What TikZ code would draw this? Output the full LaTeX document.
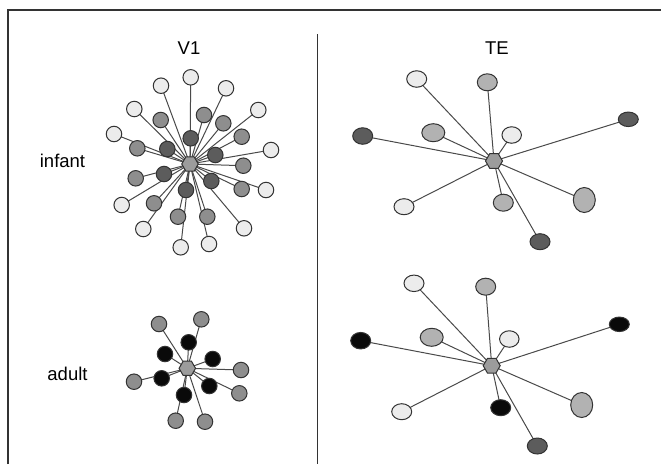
\documentclass[tikz,border=0pt]{standalone}
\usepackage{fontspec}
\setmainfont{Liberation Sans}
\usetikzlibrary{shapes.geometric}
\definecolor{lightfill}{HTML}{ECECEC}
\definecolor{midfill}{HTML}{8E8E8E}
\definecolor{darkfill}{HTML}{5C5C5C}
\definecolor{blackfill}{HTML}{0A0A0A}
\definecolor{tmidfill}{HTML}{B2B2B2}
\definecolor{hubfill}{HTML}{9C9C9C}
\definecolor{edgegray}{HTML}{4A4A4A}
\definecolor{rimgray}{HTML}{333333}
\tikzset{
  cell/.style={circle, draw=rimgray, line width=1pt, minimum size=15.5pt, inner sep=0pt},
  oval/.style={ellipse, draw=rimgray, line width=1pt, minimum width=20pt, minimum height=16.5pt, inner sep=0pt},
  hub/.style={regular polygon, regular polygon sides=6, draw=rimgray, line width=1pt, fill=hubfill, minimum size=17pt, inner sep=0pt},
  light/.style={fill=lightfill},
  mid/.style={fill=midfill},
  dark/.style={fill=darkfill},
  blk/.style={fill=blackfill},
  tmid/.style={fill=tmidfill},
  link/.style={draw=edgegray, line width=1pt},
  frame/.style={draw=rimgray, line width=1.4pt},
  lbl/.style={font=\fontsize{18.5}{22}\selectfont, anchor=base, inner sep=0pt}
}
\begin{document}
\begin{tikzpicture}[x=1pt,y=-1pt]
\useasboundingbox (0,0) rectangle (661,464);
\fill[white] (0,0) rectangle (661,464);

% frame and divider
\draw[frame] (8,464) -- (8,10) -- (661,10);
\draw[rimgray, line width=1.1pt] (317.5,34) -- (317.5,464);

% headings and row labels
\node[lbl] (hv) at (189,54) {V1};
\node[lbl] (ht) at (497,54) {TE};
\node[lbl] (rinf) at (62.5,167.7) {infant};
\node[lbl] (radu) at (67.5,380.7) {adult};

% ---------- V1, infant ----------
\coordinate (vi) at (190,164);
\foreach \n/\x/\y/\s in {
  a1/190.7/77.3/light, a2/161/85.7/light, a3/226/88.3/light, a4/134.3/109/light,
  a5/258.3/110/light, a6/114/134/light, a7/271/150/light, a8/266/190/light,
  a9/121.7/205/light, a10/244/228.3/light, a11/143.3/229/light, a12/180.7/247.3/light,
  a13/209/244/light,
  b1/160.7/120/mid, b2/204/115/mid, b3/223.3/123.3/mid, b4/241.7/136.7/mid,
  b5/137.3/148.3/mid, b6/243.3/165.7/mid, b7/135.7/178.3/mid, b8/241.7/189/mid,
  b9/154/203.3/mid, b10/178/216.7/mid, b11/207.3/216.7/mid,
  c1/190.7/138.3/dark, c2/167.3/149/dark, c3/215.3/155/dark, c4/164/174/dark,
  c5/211.3/181/dark, c6/186/190/dark}
  {\coordinate (vi\n) at (\x,\y); \draw[link] (vi) -- (vi\n);}
\foreach \n/\x/\y/\s in {
  a1/190.7/77.3/light, a2/161/85.7/light, a3/226/88.3/light, a4/134.3/109/light,
  a5/258.3/110/light, a6/114/134/light, a7/271/150/light, a8/266/190/light,
  a9/121.7/205/light, a10/244/228.3/light, a11/143.3/229/light, a12/180.7/247.3/light,
  a13/209/244/light,
  b1/160.7/120/mid, b2/204/115/mid, b3/223.3/123.3/mid, b4/241.7/136.7/mid,
  b5/137.3/148.3/mid, b6/243.3/165.7/mid, b7/135.7/178.3/mid, b8/241.7/189/mid,
  b9/154/203.3/mid, b10/178/216.7/mid, b11/207.3/216.7/mid,
  c1/190.7/138.3/dark, c2/167.3/149/dark, c3/215.3/155/dark, c4/164/174/dark,
  c5/211.3/181/dark, c6/186/190/dark}
  {\node[cell, \s] (vin\n) at (\x,\y) {};}
\node[hub, minimum size=16.5pt] (vih) at (vi) {};

% ---------- V1, adult ----------
\coordinate (va) at (187.3,368.3);
\foreach \n/\x/\y/\s in {
  m1/159/324/mid, m2/201.3/319.3/mid, m3/241/370/mid, m4/134/381.7/mid,
  m5/239.3/393.3/mid, m6/175.7/420.7/mid, m7/205/421.7/mid,
  k1/188.7/342.3/blk, k2/165/354/blk, k3/212.7/359/blk, k4/161.7/378.3/blk,
  k5/209.3/386/blk, k6/184/395/blk}
  {\coordinate (va\n) at (\x,\y); \draw[link] (va) -- (va\n);}
\foreach \n/\x/\y/\s in {
  m1/159/324/mid, m2/201.3/319.3/mid, m3/241/370/mid, m4/134/381.7/mid,
  m5/239.3/393.3/mid, m6/175.7/420.7/mid, m7/205/421.7/mid,
  k1/188.7/342.3/blk, k2/165/354/blk, k3/212.7/359/blk, k4/161.7/378.3/blk,
  k5/209.3/386/blk, k6/184/395/blk}
  {\node[cell, \s] (van\n) at (\x,\y) {};}
\node[hub, minimum size=16.5pt] (vah) at (va) {};

% ---------- TE, infant ----------
\coordinate (ti) at (494,161);
\foreach \n/\x/\y/\s/\w/\h in {
  t1/416.7/79/light/20/16.5, t2/487.3/82.3/tmid/20/17, t3/628.3/119.3/dark/20/14.5,
  t4/362.7/136/dark/20/16.5, t5/433.3/132.7/tmid/23/18, t6/511.7/135/light/19.5/16.5,
  t7/404/206.7/light/20/16, t8/503.3/202.7/tmid/20/17, t9/584.3/200/tmid/22/25,
  t10/540/241.7/dark/20/16}
  {\coordinate (ti\n) at (\x,\y); \draw[link] (ti) -- (ti\n);}
\foreach \n/\x/\y/\s/\w/\h in {
  t1/416.7/79/light/20/16.5, t2/487.3/82.3/tmid/20/17, t3/628.3/119.3/dark/20/14.5,
  t4/362.7/136/dark/20/16.5, t5/433.3/132.7/tmid/23/18, t6/511.7/135/light/19.5/16.5,
  t7/404/206.7/light/20/16, t8/503.3/202.7/tmid/20/17, t9/584.3/200/tmid/22/25,
  t10/540/241.7/dark/20/16}
  {\node[oval, \s, minimum width=\w pt, minimum height=\h pt] (tin\n) at (\x,\y) {};}
\node[hub] (tih) at (ti) {};

% ---------- TE, adult ----------
\coordinate (ta) at (491.7,365.7);
\foreach \n/\x/\y/\s/\w/\h in {
  u1/414/283.3/light/20/16.5, u2/485.7/286.7/tmid/20/17, u3/619.3/324.3/blk/20/14.5,
  u4/360.7/340.7/blk/20/16.5, u5/431.7/337.3/tmid/23/18, u6/509.3/339/light/19.5/16.5,
  u7/401.7/411.7/light/20/16, u8/500.7/407.7/blk/20/16, u9/581.7/405/tmid/22/25,
  u10/537.3/446/dark/20/16}
  {\coordinate (ta\n) at (\x,\y); \draw[link] (ta) -- (ta\n);}
\foreach \n/\x/\y/\s/\w/\h in {
  u1/414/283.3/light/20/16.5, u2/485.7/286.7/tmid/20/17, u3/619.3/324.3/blk/20/14.5,
  u4/360.7/340.7/blk/20/16.5, u5/431.7/337.3/tmid/23/18, u6/509.3/339/light/19.5/16.5,
  u7/401.7/411.7/light/20/16, u8/500.7/407.7/blk/20/16, u9/581.7/405/tmid/22/25,
  u10/537.3/446/dark/20/16}
  {\node[oval, \s, minimum width=\w pt, minimum height=\h pt] (tan\n) at (\x,\y) {};}
\node[hub] (tah) at (ta) {};
\end{tikzpicture}
\end{document}
